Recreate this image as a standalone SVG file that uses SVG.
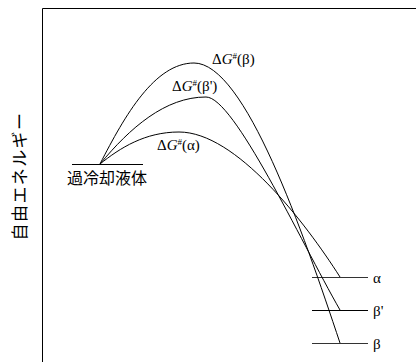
<svg xmlns="http://www.w3.org/2000/svg" width="416" height="362" viewBox="0 0 416 362">
<style>
.ln{fill:none;stroke:#000;stroke-width:1}
.lv{fill:none;stroke:#333;stroke-width:1}
.lab{font-family:"Liberation Serif","Noto Sans CJK JP",serif;font-size:15px;fill:#000}
.jp{font-family:"Noto Sans CJK JP",sans-serif;fill:#000}
</style>
<rect width="416" height="362" fill="#fff"/>
<g id="frame"><path class="ln" d="M42.5,362 V8.5 H416"/></g>
<text class="jp" font-size="17" letter-spacing="1.4" transform="translate(26,176) rotate(-90)" text-anchor="middle">自由エネルギー</text>
<g id="liquid">
<path class="ln" d="M72,164.5 H143"/>
<text class="jp" font-size="16" x="67" y="184">過冷却液体</text>
</g>
<g id="alpha"><path class="lv" d="M312,277.5 H368"/><text class="lab" x="373" y="283">α</text></g>
<g id="betap"><path class="ln" d="M312,310.5 H368"/><text class="lab" x="373" y="316">β'</text></g>
<g id="beta"><path class="lv" d="M312,343.5 H368"/><text class="lab" x="373" y="349">β</text></g>
<g id="connectors">
<path class="ln" d="M100,164 C125,115 155,63 194,63 C245,63 303,232 340,343"/>
<path class="ln" d="M100,164 C130,128 165,97 206,97 C234,97 300,240 340,310"/>
<path class="ln" d="M100,164 C120,148 145,132 179,132 C236,132 305,222 340,277"/>
</g>
<g id="labels">
<text class="lab" x="212" y="64">Δ<tspan font-style="italic">G</tspan><tspan font-size="9" dy="-5">#</tspan><tspan dy="5">(β)</tspan></text>
<text class="lab" x="172" y="91">Δ<tspan font-style="italic">G</tspan><tspan font-size="9" dy="-5">#</tspan><tspan dy="5">(β')</tspan></text>
<text class="lab" x="157" y="150">Δ<tspan font-style="italic">G</tspan><tspan font-size="9" dy="-5">#</tspan><tspan dy="5">(α)</tspan></text>
</g>
</svg>
